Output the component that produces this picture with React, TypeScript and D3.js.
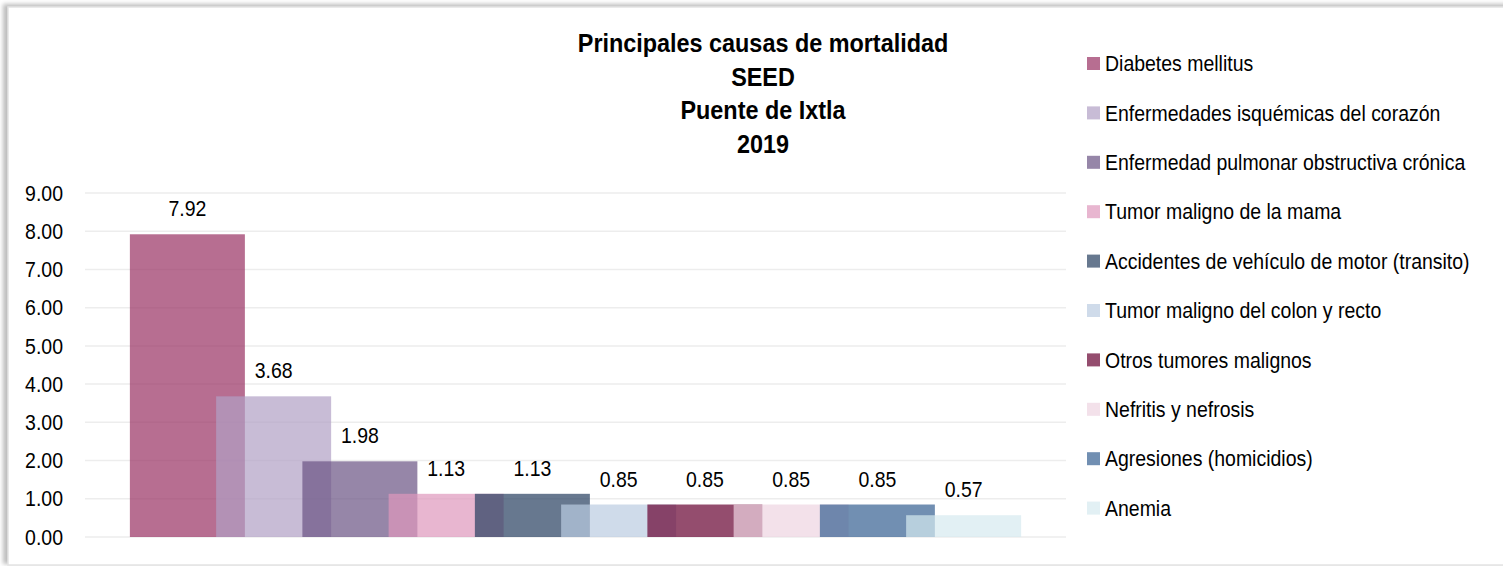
import React, { useEffect, useRef } from 'react';
import * as d3 from 'd3';

const titleLines = ['Principales causas de mortalidad', 'SEED', 'Puente de Ixtla', '2019'];

const categories = [
  'Diabetes mellitus',
  'Enfermedades isquémicas del corazón',
  'Enfermedad pulmonar obstructiva crónica',
  'Tumor maligno de la mama',
  'Accidentes de vehículo de motor (transito)',
  'Tumor maligno del colon y recto',
  'Otros tumores malignos',
  'Nefritis y nefrosis',
  'Agresiones (homicidios)',
  'Anemia',
];

const values = [7.92, 3.68, 1.98, 1.13, 1.13, 0.85, 0.85, 0.85, 0.85, 0.57];

const barColors = [
  '#983163', '#b09fc4', '#695283', '#de97bc', '#263e5f',
  '#baccE1', '#660131', '#eed4e1', '#356091', '#d6eaf0',
];

const yMax = 9;

const FONT = "'Liberation Sans', Arial, sans-serif";
const SX = 0.885; // text in the picture is horizontally condensed

const App: React.FC = () => {
  const svgRef = useRef<SVGSVGElement>(null);
  const width = 1503;
  const height = 566;

  useEffect(() => {
    document.body.style.margin = '0';
    if (!svgRef.current) return;
    const svg = d3.select(svgRef.current);
    svg.selectAll('*').remove();

    // frame with soft shadow
    const defs = svg.append('defs');
    defs.append('filter').attr('id', 'blur')
      .attr('x', '-5%').attr('y', '-5%').attr('width', '110%').attr('height', '110%')
      .append('feGaussianBlur').attr('stdDeviation', 2.2);
    svg.append('rect').attr('x', 3).attr('y', 4).attr('width', 1520).attr('height', 560)
      .attr('fill', '#bdbdbd').attr('filter', 'url(#blur)');
    svg.append('rect').attr('x', 8).attr('y', 7).attr('width', 1520).attr('height', 558)
      .attr('fill', '#ffffff').attr('stroke', '#e3e3e3').attr('stroke-width', 1.5);

    const margin = { left: 85, right: 437, top: 193, bottom: 29 };
    const innerW = width - margin.left - margin.right;
    const innerH = height - margin.top - margin.bottom;
    const g = svg.append('g').attr('transform', `translate(${margin.left},${margin.top})`);

    const y = d3.scaleLinear().domain([0, yMax]).range([innerH, 0]);
    const x = d3.scaleBand<string>().domain(categories).range([0, innerW])
      .paddingInner(0).paddingOuter(0.687);
    const overlap = 0.25;
    const barW = x.step() / (1 - overlap);

    // grid
    g.selectAll('.grid').data(y.ticks(yMax)).enter().append('line')
      .attr('x1', 0).attr('x2', innerW)
      .attr('y1', d => y(d)).attr('y2', d => y(d))
      .attr('stroke', '#ededed').attr('stroke-width', 1.5);

    // y labels
    g.selectAll('.ylab').data(y.ticks(yMax)).enter().append('text')
      .attr('transform', d => `translate(-22,${y(d)}) scale(${SX},1)`)
      .attr('dy', '0.35em')
      .attr('text-anchor', 'end')
      .attr('font-family', FONT).attr('font-size', 22).attr('fill', '#000')
      .text(d => d.toFixed(2));

    const data = categories.map((c, i) => ({ name: c, value: values[i], color: barColors[i] }));
    const cx = (d: { name: string }) => (x(d.name) || 0) + x.bandwidth() / 2;

    // bars
    g.selectAll('.bar').data(data).enter().append('rect')
      .attr('x', d => cx(d) - barW / 2)
      .attr('y', d => y(d.value))
      .attr('width', barW)
      .attr('height', d => innerH - y(d.value))
      .attr('fill', d => d.color)
      .attr('fill-opacity', 0.7);

    // value labels
    g.selectAll('.val').data(data).enter().append('text')
      .attr('transform', d => `translate(${cx(d)},${y(d.value) - 18}) scale(${SX},1)`)
      .attr('text-anchor', 'middle')
      .attr('font-family', FONT).attr('font-size', 22).attr('fill', '#000')
      .text(d => d.value.toFixed(2));

    // title
    svg.selectAll('.title').data(titleLines).enter().append('text')
      .attr('transform', (d, i) => `translate(763,${52 + i * 33.7}) scale(0.9,1)`)
      .attr('text-anchor', 'middle')
      .attr('font-family', FONT).attr('font-size', 26).attr('font-weight', 700).attr('fill', '#000')
      .text(d => d);

    // legend
    const leg = svg.append('g').attr('transform', 'translate(1087,63.5)');
    const rows = leg.selectAll('.leg').data(data).enter().append('g')
      .attr('transform', (d, i) => `translate(0,${i * 49.4})`);
    rows.append('rect').attr('x', 0).attr('y', -6.5).attr('width', 13).attr('height', 13)
      .attr('fill', d => d.color).attr('fill-opacity', 0.7);
    rows.append('text')
      .attr('transform', `translate(18,0) scale(${SX},1)`)
      .attr('dy', '0.35em')
      .attr('font-family', FONT).attr('font-size', 22).attr('fill', '#000')
      .text(d => d.name);
  }, []);

  return (
    <svg ref={svgRef} width={width} height={height} viewBox={`0 0 ${width} ${height}`}
      style={{ display: 'block' }} />
  );
};

export default App;
